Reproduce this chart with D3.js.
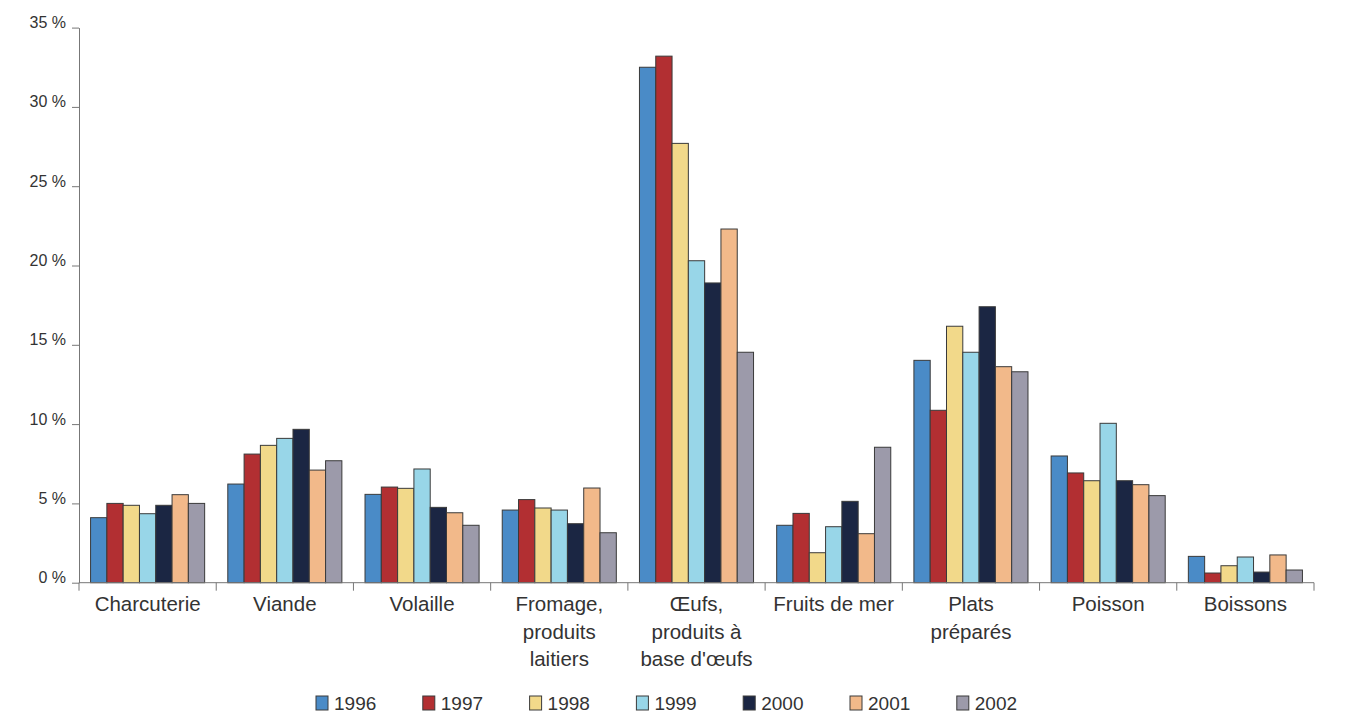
<!DOCTYPE html>
<html>
<head>
<meta charset="utf-8">
<script src="https://cdn.jsdelivr.net/npm/d3@7"></script>
<style>
  body { margin: 0; background: #fff; }
  text { font-family: "Liberation Sans", Arial, sans-serif; }
</style>
</head>
<body>
<div id="chart"></div>
<script>
// categories (multi-line labels)
const categories = [
  ["Charcuterie"],
  ["Viande"],
  ["Volaille"],
  ["Fromage,", "produits", "laitiers"],
  ["Œufs,", "produits à", "base d'œufs"],
  ["Fruits de mer"],
  ["Plats", "préparés"],
  ["Poisson"],
  ["Boissons"]
];
const years = ["1996", "1997", "1998", "1999", "2000", "2001", "2002"];
const colors = ["#4a8bc7", "#b22f32", "#f2d98a", "#98d6e8", "#1b2643", "#f2b98a", "#9c9aaa"];

// values in %, one array per year, in category order
const v1996 = [4.1, 6.22, 5.57, 4.58, 32.5, 3.62, 14.02, 7.99, 1.66];
const v1997 = [5.0, 8.11, 6.03, 5.24, 33.2, 4.37, 10.87, 6.92, 0.61];
const v1998 = [4.88, 8.66, 5.95, 4.71, 27.7, 1.89, 16.17, 6.43, 1.07];
const v1999 = [4.35, 9.1, 7.17, 4.58, 20.3, 3.53, 14.53, 10.05, 1.62];
const v2000 = [4.88, 9.67, 4.75, 3.72, 18.9, 5.13, 17.4, 6.43, 0.67];
const v2001 = [5.55, 7.1, 4.41, 5.97, 22.3, 3.09, 13.62, 6.18, 1.75];
const v2002 = [5.0, 7.69, 3.62, 3.15, 14.53, 8.54, 13.3, 5.49, 0.8];
const series = [v1996, v1997, v1998, v1999, v2000, v2001, v2002];

const yTicks = [0, 5, 10, 15, 20, 25, 30, 35];

const W = 1346, H = 716;
const plotLeft = 79, plotRight = 1314, plotTop = 27.6, plotBottom = 582.7;

const svg = d3.select("#chart").append("svg")
  .attr("width", W).attr("height", H);

const catNames = categories.map(c => c.join(" "));

const x0 = d3.scaleBand().domain(catNames).range([plotLeft, plotRight]).padding(0);
const x1 = d3.scaleBand().domain(years).range([0, x0.bandwidth()])
  .paddingInner(0).paddingOuter(0.71);
const y = d3.scaleLinear().domain([0, 35]).range([plotBottom, plotTop]);

// bars
const groups = svg.append("g").selectAll("g")
  .data(catNames)
  .join("g")
  .attr("transform", d => "translate(" + x0(d) + ",0)");

groups.selectAll("rect")
  .data((d, i) => years.map((yr, j) => ({ yr: yr, j: j, v: series[j][i] })))
  .join("rect")
  .attr("x", d => x1(d.yr))
  .attr("y", d => y(d.v))
  .attr("width", x1.bandwidth())
  .attr("height", d => plotBottom - y(d.v))
  .attr("fill", d => colors[d.j])
  .attr("stroke", "#3a3a3a")
  .attr("stroke-width", 1);

// y axis
const yAxis = d3.axisLeft(y)
  .tickValues(yTicks)
  .tickSize(7)
  .tickSizeOuter(0)
  .tickPadding(6)
  .tickFormat(d => d + " %");

const gy = svg.append("g")
  .attr("transform", "translate(" + plotLeft + ",0)")
  .call(yAxis);
gy.select(".domain").attr("stroke", "#777");
gy.selectAll(".tick line").attr("stroke", "#777");
gy.selectAll(".tick text")
  .attr("fill", "#333")
  .attr("dy", "0.0em")
  .style("font-size", "16px")
  .style("font-family", "'Liberation Sans', Arial, sans-serif");

// x axis: baseline and separator ticks
const gx = svg.append("g");
gx.append("line")
  .attr("x1", plotLeft).attr("x2", plotRight)
  .attr("y1", plotBottom).attr("y2", plotBottom)
  .attr("stroke", "#777");
const bounds = catNames.map(d => x0(d)).concat([plotRight]);
gx.selectAll(".sep")
  .data(bounds)
  .join("line")
  .attr("class", "sep")
  .attr("x1", d => d).attr("x2", d => d)
  .attr("y1", plotBottom).attr("y2", plotBottom + 8)
  .attr("stroke", "#777");

// category labels
const labels = gx.selectAll(".cat")
  .data(categories)
  .join("text")
  .attr("class", "cat")
  .attr("text-anchor", "middle")
  .attr("fill", "#333")
  .style("font-size", "20.5px")
  .attr("transform", (d, i) => "translate(" + (x0(catNames[i]) + x0.bandwidth() / 2) + "," + 611 + ")");
labels.selectAll("tspan")
  .data(d => d)
  .join("tspan")
  .attr("x", 0)
  .attr("dy", (d, i) => i === 0 ? 0 : 27.5)
  .text(d => d);

// legend
const legend = svg.append("g").selectAll("g")
  .data(years)
  .join("g")
  .attr("transform", (d, i) => "translate(" + (316 + i * 106.8) + ",696)");
legend.append("rect")
  .attr("width", 12).attr("height", 14)
  .attr("fill", (d, i) => colors[i])
  .attr("stroke", "#3a3a3a")
  .attr("stroke-width", 1);
legend.append("text")
  .attr("x", 18)
  .attr("y", 14)
  .attr("fill", "#333")
  .style("font-size", "19px")
  .text(d => d);
</script>
</body>
</html>
